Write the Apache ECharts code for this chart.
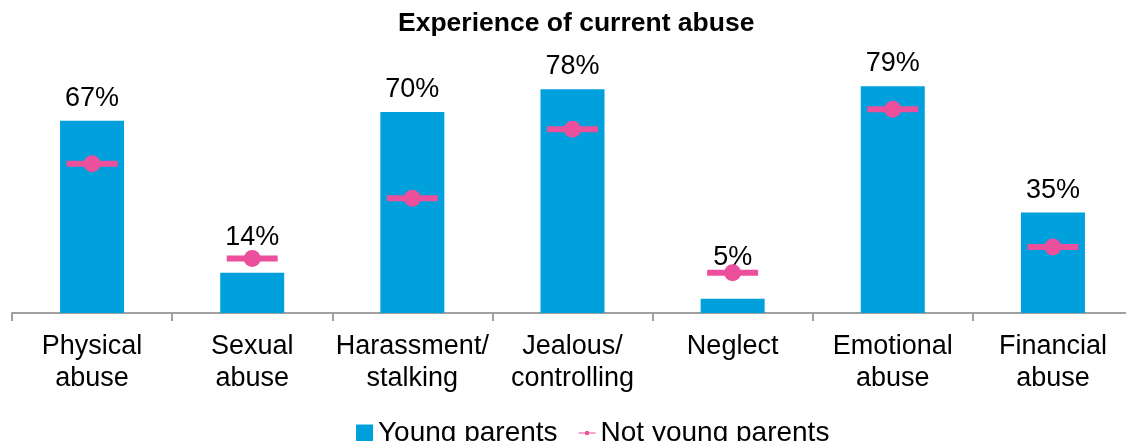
<!DOCTYPE html>
<html>
<head>
<meta charset="utf-8">
<script src="https://cdn.jsdelivr.net/npm/echarts@6/dist/echarts.min.js"></script>
<style>
  html, body { margin: 0; padding: 0; background: #fff; }
  #chart-container { width: 1126px; height: 441px; }
</style>
</head>
<body>
<div id="chart-container"></div>
<script>
var categories = ['Physical\nabuse', 'Sexual\nabuse', 'Harassment/\nstalking', 'Jealous/\ncontrolling', 'Neglect', 'Emotional\nabuse', 'Financial\nabuse'];
var youngParents = [67, 14, 70, 78, 5, 79, 35];
var notYoungParents = [52, 19, 40, 64, 14, 71, 23];
// extra label lift where the marker sits above the bar
var labelDistance = [9, 22, 9, 9, 28, 9, 9];

var dom = document.getElementById('chart-container');
var myChart = echarts.init(dom, null, { renderer: 'canvas' });

var font = 'Liberation Sans, Arial, sans-serif';
var pink = '#ec4f9b';

var option = {
    animation: false,
    textStyle: { fontFamily: font },
    title: {
        text: 'Experience of current abuse',
        left: 393,
        top: 5,
        textStyle: { fontSize: 26.5, fontWeight: 'bold', color: '#000', fontFamily: font }
    },
    legend: {
        top: 414,
        left: 351,
        itemGap: 21,
        itemWidth: 17,
        itemHeight: 17,
        textStyle: { fontSize: 28, color: '#000', fontFamily: font },
        data: [
            { name: 'Young parents', icon: 'rect' },
            { name: 'Not young parents', icon: 'path://M0,7 H30 V9 H0 Z M11,8 A4,4 0 1,1 19,8 A4,4 0 1,1 11,8 Z', itemStyle: { color: pink, opacity: 1 } }
        ]
    },
    grid: { left: 12, width: 1121, top: 26, bottom: 128, containLabel: false, outerBoundsMode: 'none' },
    xAxis: {
        type: 'category',
        data: categories,
        axisLine: { lineStyle: { color: '#a0a0a0', width: 2 } },
        axisTick: { show: true, length: 8, lineStyle: { color: '#a0a0a0', width: 2 } },
        axisLabel: { fontSize: 27, color: '#000', lineHeight: 32, margin: 18, interval: 0, fontFamily: font }
    },
    yAxis: {
        type: 'value',
        min: 0,
        max: 100,
        show: false,
        splitLine: { show: false }
    },
    series: [
        {
            name: 'Young parents',
            type: 'bar',
            barWidth: 64,
            itemStyle: { color: '#00a0dc' },
            label: {
                show: true,
                position: 'top',
                fontSize: 27,
                color: '#000',
                fontFamily: font,
                formatter: '{c}%'
            },
            data: youngParents.map(function (v, i) {
                return { value: v, label: { distance: labelDistance[i] } };
            }),
            z: 1
        },
        {
            name: 'Not young parents',
            type: 'scatter',
            symbol: 'rect',
            symbolSize: [51, 6],
            itemStyle: { color: pink, opacity: 1 },
            data: notYoungParents,
            z: 3
        },
        {
            name: 'Not young parents',
            type: 'scatter',
            symbol: 'circle',
            symbolSize: 17,
            itemStyle: { color: pink, opacity: 1 },
            data: notYoungParents,
            z: 4
        }
    ]
};

myChart.setOption(option);
</script>
</body>
</html>
